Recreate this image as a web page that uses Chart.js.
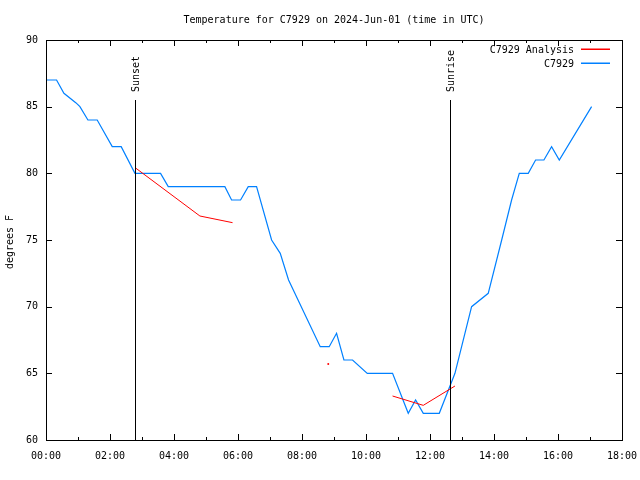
<!DOCTYPE html>
<html>
<head>
<meta charset="utf-8">
<script src="https://cdn.jsdelivr.net/npm/chart.js@4/dist/chart.umd.min.js"></script>
<style>
  html, body { margin: 0; padding: 0; background: #fff; }
  #wrap { width: 640px; height: 480px; }
</style>
</head>
<body>
<div id="wrap"><canvas id="tempChart" width="640" height="480"></canvas></div>
<script>
const chartTitle = "Temperature for C7929 on 2024-Jun-01 (time in UTC)";
const yLabel = "degrees F";

// observed temperatures (hours after 00:00 UTC)
const obsHours = [0.0, 0.33, 0.56, 0.93, 1.06, 1.31, 1.60, 2.07, 2.35, 2.78, 3.58, 3.82, 5.59, 5.80,
  6.08, 6.32, 6.58, 7.05, 7.32, 7.58, 8.57, 8.85, 9.08, 9.31, 9.58, 10.04, 10.83, 11.32, 11.55,
  11.79, 12.29, 12.78, 13.30, 13.82, 14.24, 14.55, 14.79, 15.07, 15.30, 15.56, 15.80, 16.04, 17.05];
const obsTemps = [87, 87, 86, 85.3, 85, 84, 84, 82, 82, 80, 80, 79, 79, 78,
  78, 79, 79, 75, 74, 72, 67, 67, 68, 66, 66, 65, 65, 62, 63,
  62, 62, 65, 70, 71, 75, 78, 80, 80, 81, 81, 82, 81, 85];

// analysis values, null = missing hour
const anaHours = [2.80, 4.81, 5.83, 6.82, 8.82, 9.82, 10.83, 11.79, 12.78];
const anaTemps = [80.4, 76.8, 76.3, null, 65.7, null, 63.3, 62.6, 64.05];

const seriesNames = ["C7929 Analysis", "C7929"];
const seriesColors = ["#ff0000", "#0080ff"];

const sunEvents = [
  { label: "Sunset", hour: 2.78 },
  { label: "Sunrise", hour: 12.63 },
];

const xMin = 0, xMax = 18, xStep = 2;
const yMin = 60, yMax = 90, yStep = 5;

const FONT = "10px 'DejaVu Sans Mono', monospace";

function toPoints(xs, ys) {
  return xs.map((x, i) => ({ x: x, y: ys[i] }));
}

function hhmm(h) {
  return String(h).padStart(2, "0") + ":00";
}

// box, inward ticks, sun lines, title, legend
const decorPlugin = {
  id: "decor",
  afterDatasetsDraw(chart) {
    const { ctx, chartArea: a, scales } = chart;
    const xs = scales.x, ys = scales.y;
    ctx.save();
    ctx.strokeStyle = "#000";
    ctx.lineWidth = 1;
    ctx.beginPath();
    for (let h = xMin; h <= xMax; h++) {
      const px = Math.round(xs.getPixelForValue(h)) + 0.5;
      const len = h % xStep === 0 ? 6 : 3;
      ctx.moveTo(px, a.bottom); ctx.lineTo(px, a.bottom - len);
      ctx.moveTo(px, a.top); ctx.lineTo(px, a.top + len);
    }
    for (let v = yMin; v <= yMax; v += yStep) {
      const py = Math.round(ys.getPixelForValue(v)) + 0.5;
      ctx.moveTo(a.left, py); ctx.lineTo(a.left + 6, py);
      ctx.moveTo(a.right, py); ctx.lineTo(a.right - 6, py);
    }
    ctx.stroke();
    ctx.strokeRect(Math.round(a.left) + 0.5, Math.round(a.top) + 0.5,
      Math.round(a.right - a.left), Math.round(a.bottom - a.top));

    ctx.font = FONT;
    ctx.fillStyle = "#000";
    sunEvents.forEach((ev) => {
      const px = Math.round(xs.getPixelForValue(ev.hour)) + 0.5;
      ctx.beginPath();
      ctx.moveTo(px, a.top + 60);
      ctx.lineTo(px, a.bottom);
      ctx.stroke();
      ctx.save();
      ctx.translate(px + 1, a.top + 52);
      ctx.rotate(-Math.PI / 2);
      ctx.textAlign = "left";
      ctx.textBaseline = "middle";
      ctx.fillText(ev.label, 0, 0);
      ctx.restore();
    });

    ctx.textAlign = "center";
    ctx.textBaseline = "middle";
    ctx.fillText(chartTitle, (a.left + a.right) / 2, 20);

    ctx.save();
    ctx.translate(10, (a.top + a.bottom) / 2 + 2);
    ctx.rotate(-Math.PI / 2);
    ctx.fillText(yLabel, 0, 0);
    ctx.restore();

    ctx.textAlign = "right";
    seriesNames.forEach((name, i) => {
      const y = Math.round(a.top + 9 + i * 14);
      ctx.fillStyle = "#000";
      ctx.fillText(name, a.right - 48, y + 1);
      ctx.fillStyle = seriesColors[i];
      ctx.fillRect(a.right - 41, y - 0.5, 29, 1.5);
    });
    ctx.restore();
  },
};

new Chart(document.getElementById("tempChart"), {
  type: "line",
  data: {
    datasets: [
      {
        label: seriesNames[0],
        data: toPoints(anaHours, anaTemps),
        borderColor: seriesColors[0],
        backgroundColor: seriesColors[0],
        borderWidth: 1,
        spanGaps: false,
        // a lone value between gaps shows as a dot
        pointRadius: (c) => {
          const i = c.dataIndex;
          const prev = anaTemps[i - 1], next = anaTemps[i + 1];
          return anaTemps[i] != null && prev == null && next == null ? 1 : 0;
        },
        pointBorderWidth: 0,
        tension: 0,
      },
      {
        label: seriesNames[1],
        data: toPoints(obsHours, obsTemps),
        borderColor: seriesColors[1],
        borderWidth: 1.2,
        pointRadius: 0,
        tension: 0,
      },
    ],
  },
  options: {
    responsive: false,
    animation: false,
    devicePixelRatio: 1,
    layout: { padding: { top: 40, right: 18, left: 0, bottom: 0 } },
    plugins: { legend: { display: false }, title: { display: false }, tooltip: { enabled: false } },
    scales: {
      x: {
        type: "linear",
        min: xMin,
        max: xMax,
        afterFit: (s) => { s.height = 40; s.paddingLeft = 0; s.paddingRight = 0; },
        grid: { display: false, drawTicks: false },
        border: { display: false },
        ticks: {
          stepSize: xStep,
          padding: 10,
          maxRotation: 0,
          color: "#000",
          font: { family: "'DejaVu Sans Mono', monospace", size: 10 },
          callback: (v) => hhmm(v),
        },
      },
      y: {
        min: yMin,
        max: yMax,
        afterFit: (s) => { s.width = 46; s.paddingTop = 0; s.paddingBottom = 0; },
        grid: { display: false, drawTicks: false },
        border: { display: false },
        ticks: {
          stepSize: yStep,
          padding: 8,
          color: "#000",
          font: { family: "'DejaVu Sans Mono', monospace", size: 10 },
        },
      },
    },
  },
  plugins: [decorPlugin],
});
</script>
</body>
</html>
